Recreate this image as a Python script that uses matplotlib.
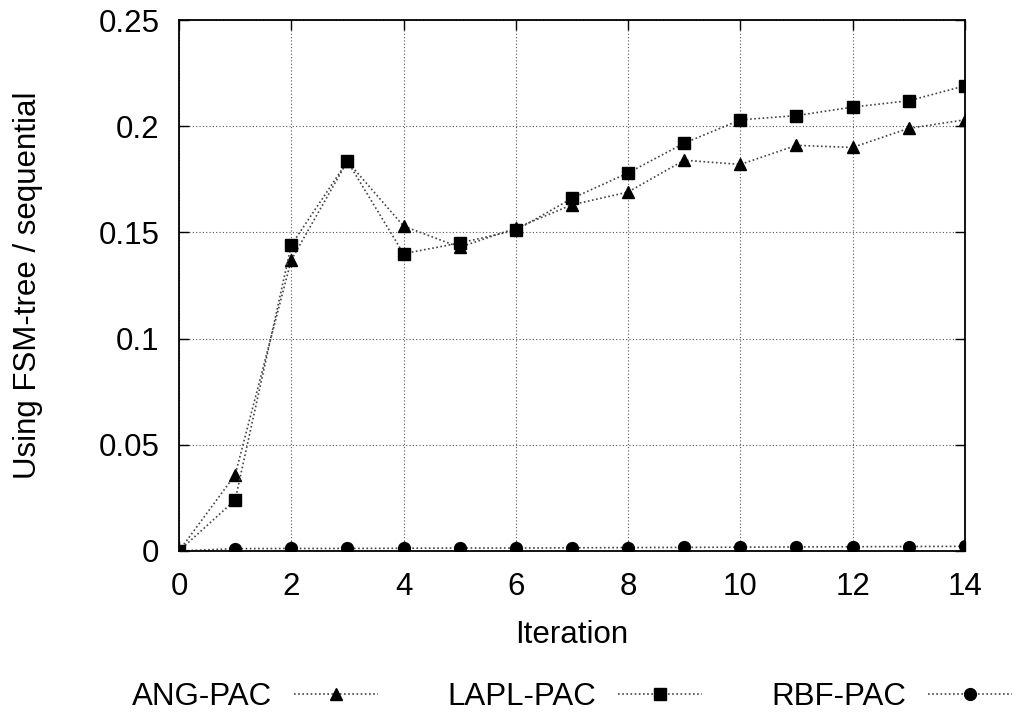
import matplotlib.pyplot as plt

plt.rcParams['font.family'] = ['Liberation Sans', 'DejaVu Sans']

iterations = list(range(15))
ang_pac = [0.0, 0.0358, 0.137, 0.1835, 0.153, 0.143, 0.152, 0.163, 0.169,
           0.184, 0.182, 0.191, 0.190, 0.199, 0.203]
lapl_pac = [0.0, 0.024, 0.144, 0.1835, 0.140, 0.145, 0.151, 0.166, 0.178,
            0.192, 0.203, 0.205, 0.209, 0.212, 0.219]
rbf_pac = [0.0, 0.0011, 0.0012, 0.0012, 0.0013, 0.0014, 0.0014, 0.0015, 0.0016,
           0.0017, 0.0018, 0.0019, 0.0020, 0.0021, 0.0022]

fs = 22.5

fig = plt.figure(figsize=(10.21, 7.18), dpi=100)
ax = fig.add_axes([0.1753, 0.2326, 0.7697, 0.7395])

line_kw = dict(color='#444444', linestyle=(0, (1, 1.5)), linewidth=1.2,
               markerfacecolor='black', markeredgecolor='black')
ax.plot(iterations, ang_pac, marker='^', markersize=9, label='ANG-PAC', **line_kw)
ax.plot(iterations, lapl_pac, marker='s', markersize=9, label='LAPL-PAC', **line_kw)
ax.plot(iterations, rbf_pac, marker='o', markersize=8.5, label='RBF-PAC', **line_kw)

ax.set_xlim(0, 14)
ax.set_ylim(0, 0.25)
ax.set_xticks(range(0, 15, 2))
ax.set_yticks([0, 0.05, 0.1, 0.15, 0.2, 0.25])
ax.set_yticklabels(['0', '0.05', '0.1', '0.15', '0.2', '0.25'])
ax.grid(True, color='#555555', linestyle=(0, (1, 2)), linewidth=0.8)
ax.tick_params(direction='in', labelsize=fs, length=7, width=1,
               top=True, right=True)
ax.tick_params(axis='x', pad=15)
ax.tick_params(axis='y', pad=14)
for s in ax.spines.values():
    s.set_linewidth(1.3)

ax.set_xlabel('Iteration', fontsize=fs, labelpad=13)
ax.set_ylabel('Using FSM-tree / sequential', fontsize=fs, labelpad=40)

fig.legend(loc='center', bbox_to_anchor=(572 / 1021, 21 / 718), ncol=3,
           frameon=False, markerfirst=False, fontsize=fs, handlelength=2.7,
           columnspacing=2.2, handletextpad=0.7, borderpad=0.2)

fig.savefig('out.png', dpi=100)
